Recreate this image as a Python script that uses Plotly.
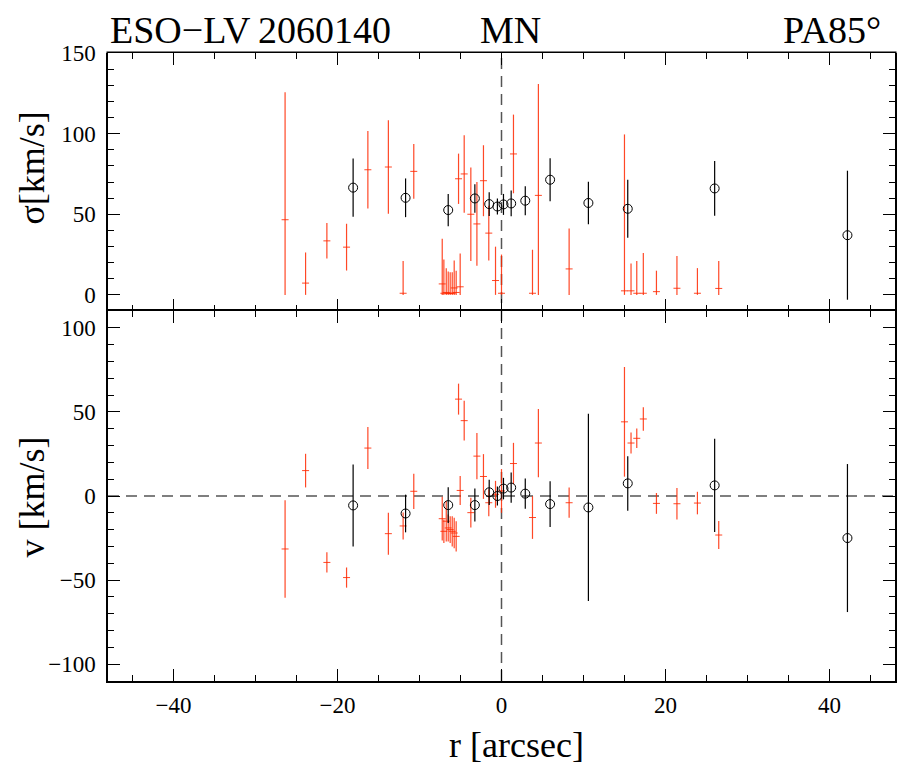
import numpy as np
import plotly.graph_objects as go

# ---------------- data ----------------
r_red = [-26.4, -23.9, -21.3, -18.9, -16.3, -13.8, -12.0, -10.7,
         -7.23, -7.03, -6.74, -6.5, -6.26, -6.01, -5.77, -5.53, -5.04,
         -5.24, -4.55, -3.74, -3.0, -2.2, -1.55, -0.73, 0.0,
         1.46, 3.78, 4.5, 8.25,
         15.0, 15.8, 16.5, 17.3, 18.9, 21.4, 23.9, 26.5]
sig_red = [46.6, 7.3, 33.5, 29.6, 77.6, 79.3, 1.0, 76.6,
           6.8, 1.0, 1.5, 1.0, 1.0, 1.0, 4.3, 1.5, 5.0,
           72.0, 75.0, 50.0, 44.0, 70.8, 38.3, 8.9, 1.0,
           87.4, 1.0, 61.7, 16.1,
           2.5, 2.5, 1.0, 1.0, 2.0, 4.1, 1.0, 4.0]
sig_red_err = [79, 19, 11, 14.5, 24, 29, 20, 17,
               28, 21, 15, 13.5, 13, 13, 17, 13.5, 20.6,
               15.6, 24, 29, 26, 22, 17, 21, 24,
               24.4, 27, 69, 25,
               97, 17, 20, 25, 13, 20, 15.6, 17]
v_red = [-31.5, 15.1, -39.5, -48.5, 28.5, -22.4, -17.8, 2.8,
         -13.5, -21, -15, -19, -20, -21, -22, -24, 3.3,
         57.6, 44.8, -9.9, 23.7, 11.6, -4.0, 1.0, 3.0,
         19.3, -12.8, 31.5, -4.0,
         44.1, 31.5, 34.3, 45.8, -4.4, -4.6, -4.2, -23.2]
v_red_err = [29, 10, 6, 6, 12.5, 12.5, 8, 10.5,
             13, 7, 12, 8, 8, 9, 9, 9, 8.6,
             9.2, 11.8, 8.8, 13.7, 13.3, 8, 8, 13,
             12.3, 12.7, 20.3, 9,
             32.6, 6.2, 5.8, 7, 6.2, 9.3, 6.7, 8.3]

r_blk = [-18.1, -11.7, -6.5, -3.25, -1.5, -0.5, 0.24, 1.18, 2.9, 5.93, 10.6, 15.4, 26.0, 42.2]
sig_blk = [66.5, 60.2, 52.6, 59.8, 56.3, 54.8, 56.1, 56.7, 58.4, 71.4, 57.0, 53.4, 66.0, 37.0]
sig_blk_err = [18, 12, 10, 8.8, 7.4, 5, 6.5, 8, 9, 13.4, 13.2, 18, 17, 40]
v_blk = [-5.6, -10.4, -5.4, -5.4, 2.2, 0.0, 4.4, 5.0, 1.4, -4.8, -6.8, 7.5, 6.3, -25.0]
v_blk_err = [24.4, 11.2, 10.6, 9.8, 7.5, 5.7, 6.4, 9, 9, 13.6, 55.7, 16.2, 27.7, 44]

x_ticks = [-40, -20, 0, 20, 40]
sig_ticks = [0, 50, 100, 150]
v_ticks = [-100, -50, 0, 50, 100]

title_left = "ESO\u2212LV\u20092060140"
title_mid = "MN"
title_right = "PA85\u00b0"

# ---------------- styling ----------------
FONT = "Liberation Serif"
RED = "rgba(255,40,0,0.85)"
BLK = "black"

sig_red_minus = np.minimum(np.array(sig_red_err), np.array(sig_red))

fig = go.Figure()

fig.add_trace(go.Scatter(
    x=r_red, y=sig_red, mode="markers", xaxis="x", yaxis="y",
    marker=dict(symbol="line-ew", size=5, color=RED, line=dict(color=RED, width=1)),
    error_y=dict(type="data", array=sig_red_err, arrayminus=sig_red_minus,
                 color=RED, thickness=1.2, width=0),
    showlegend=False, hoverinfo="skip"))
fig.add_trace(go.Scatter(
    x=r_blk, y=sig_blk, mode="markers", xaxis="x", yaxis="y",
    marker=dict(symbol="circle-open", size=9, color=BLK, line=dict(color=BLK, width=1)),
    error_y=dict(type="data", array=sig_blk_err, color=BLK, thickness=1.2, width=0),
    showlegend=False, hoverinfo="skip"))

fig.add_trace(go.Scatter(
    x=r_red, y=v_red, mode="markers", xaxis="x2", yaxis="y2",
    marker=dict(symbol="line-ew", size=5, color=RED, line=dict(color=RED, width=1)),
    error_y=dict(type="data", array=v_red_err, color=RED, thickness=1.2, width=0),
    showlegend=False, hoverinfo="skip"))
fig.add_trace(go.Scatter(
    x=r_blk, y=v_blk, mode="markers", xaxis="x2", yaxis="y2",
    marker=dict(symbol="circle-open", size=9, color=BLK, line=dict(color=BLK, width=1)),
    error_y=dict(type="data", array=v_blk_err, color=BLK, thickness=1.2, width=0),
    showlegend=False, hoverinfo="skip"))

split = 370 / 628
LW = 1.5

axis_common = dict(showline=True, linecolor="black", linewidth=LW, mirror="ticks",
                   ticks="inside", ticklen=12, tickwidth=1, tickcolor="black",
                   showgrid=False, zeroline=False,
                   tickfont=dict(family=FONT, size=23, color="black"))
minor_x = dict(dtick=5, tick0=0, ticklen=6, ticks="inside", tickcolor="black")

fig.update_layout(
    width=898, height=765,
    margin=dict(l=108, r=1, t=53, b=84),
    paper_bgcolor="white", plot_bgcolor="white",
    font=dict(family=FONT, color="black"),
    # top panel x axis: ticks only, its lines are drawn separately (avoid doubled border)
    xaxis=dict(axis_common, linecolor="rgba(0,0,0,0)", domain=[0, 1], anchor="y",
               range=[-48, 48], tickvals=x_ticks, showticklabels=False, minor=minor_x),
    yaxis=dict(axis_common, domain=[split, 1], anchor="x", range=[-10, 150],
               tickvals=sig_ticks, ticklabelstandoff=6,
               minor=dict(dtick=10, tick0=0, ticklen=6, ticks="inside", tickcolor="black")),
    xaxis2=dict(axis_common, domain=[0, 1], anchor="y2", range=[-48, 48], matches="x",
                tickvals=x_ticks, ticklabelstandoff=3, minor=minor_x),
    yaxis2=dict(axis_common, domain=[0, split], anchor="x2", range=[-110, 110],
                tickvals=v_ticks, ticklabelstandoff=6,
                minor=dict(dtick=10, tick0=0, ticklen=6, ticks="inside", tickcolor="black")),
)

# top border of the upper panel
fig.add_shape(type="line", xref="paper", yref="paper", x0=-LW / 788, x1=1 + LW / 788,
              y0=1 + (LW / 2) / 628, y1=1 + (LW / 2) / 628,
              line=dict(color="black", width=LW), layer="above")

dash = "11px,7px"
fig.add_shape(type="line", xref="x", yref="paper", x0=0, x1=0, y0=0, y1=1,
              line=dict(color="#555555", width=1.5, dash=dash), layer="below")
fig.add_shape(type="line", xref="x2 domain", yref="y2", x0=0, x1=1, y0=0, y1=0,
              line=dict(color="#555555", width=1.5, dash=dash), layer="below")


def px_x(px):
    return (px - 108.5) / 788.0


def px_y(py):
    return (681.0 - py) / 628.0


tfont = dict(family=FONT, size=38, color="black")
fig.add_annotation(text=title_left, xref="paper", yref="paper", x=0.0, y=px_y(30),
                   xanchor="left", yanchor="middle", showarrow=False, font=tfont)
fig.add_annotation(text=title_mid, xref="paper", yref="paper", x=px_x(512), y=px_y(30),
                   xanchor="center", yanchor="middle", showarrow=False, font=tfont)
fig.add_annotation(text=title_right, xref="paper", yref="paper", x=px_x(884), y=px_y(30),
                   xanchor="right", yanchor="middle", showarrow=False, font=tfont)

lfont = dict(family=FONT, size=36, color="black")
fig.add_annotation(text="\u03c3[km/s]", xref="paper", yref="paper", x=px_x(32), y=px_y(168),
                   xanchor="center", yanchor="middle", textangle=-90, showarrow=False, font=lfont)
fig.add_annotation(text="v [km/s]", xref="paper", yref="paper", x=px_x(32), y=px_y(497),
                   xanchor="center", yanchor="middle", textangle=-90, showarrow=False, font=lfont)
fig.add_annotation(text="r [arcsec]", xref="paper", yref="paper", x=px_x(518), y=px_y(745),
                   xanchor="center", yanchor="middle", showarrow=False, font=lfont)

fig.write_html("out.html")
